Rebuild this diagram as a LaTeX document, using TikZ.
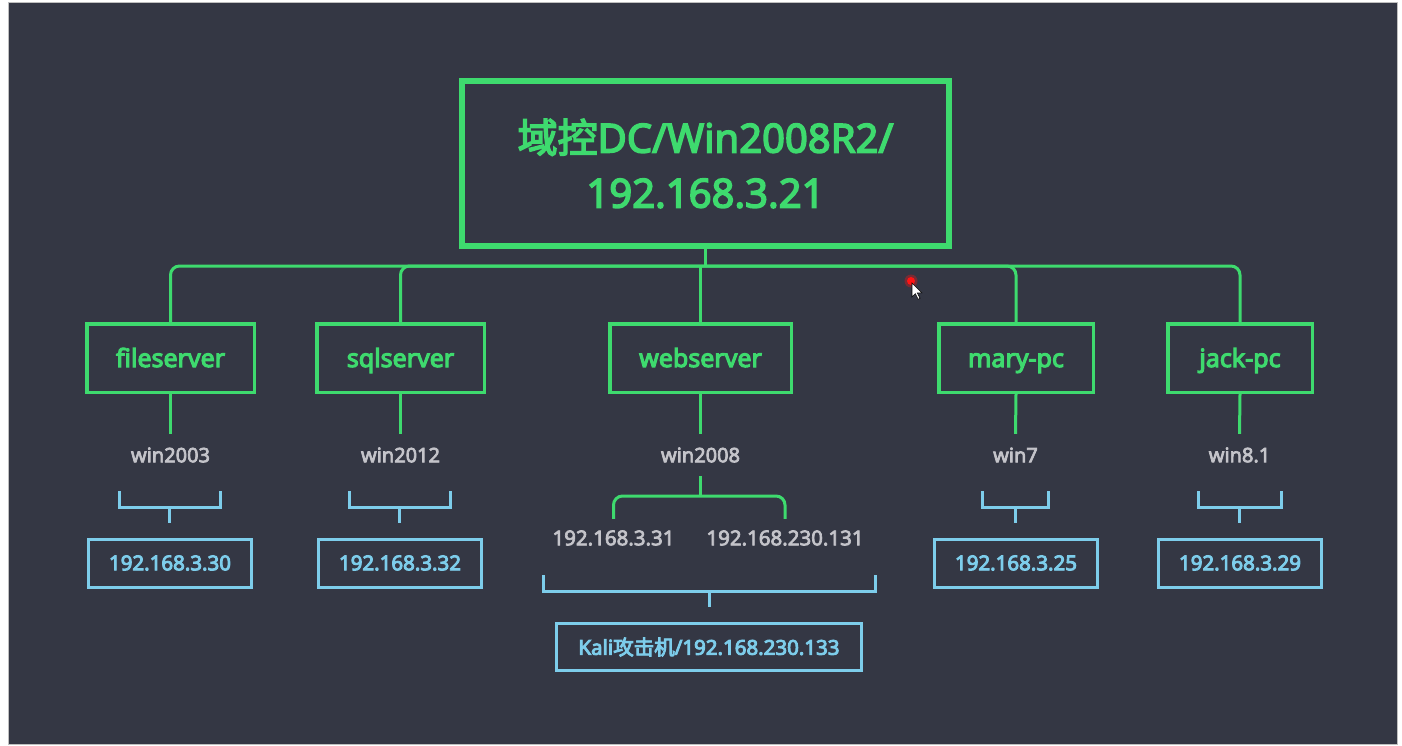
\documentclass[tikz,border=0pt]{standalone}
\usepackage{fontspec}
\setmainfont{Noto Sans}
\newfontfamily\cjk{Noto Sans CJK SC}
\newcommand\thk[1]{\special{pdf:literal direct 2 Tr #1 w}}
\usetikzlibrary{calc}
\definecolor{bgdark}{RGB}{52,55,68}
\definecolor{gr}{RGB}{62,218,110}
\definecolor{bl}{RGB}{125,205,235}
\definecolor{gy}{RGB}{196,196,202}
\definecolor{dotred}{RGB}{255,20,20}
\newcommand\ipbrk[3]{%
  \draw[bline] (#1-#2,491) |- (#1+#2,507) -- (#1+#2,491);
  \coordinate (#3) at (#1,507);}
\tikzset{
  dcbox/.style={draw=gr, line width=6pt, minimum width=487pt, minimum height=165pt, inner sep=0pt,
    text=gr, align=center, font=\fontsize{40}{55}\selectfont\thk{1.5}},
  hostbox/.style={draw=gr, line width=3.5pt, minimum height=68.5pt, inner sep=0pt,
    text height=20pt, text depth=2pt,
    text=gr, font=\fontsize{25}{30}\selectfont\thk{1.1}},
  oslabel/.style={text=gy, minimum height=42pt, inner sep=0pt, font=\fontsize{20}{24}\selectfont\thk{0.7}},
  iplabel/.style={text=gy, minimum height=38pt, inner sep=0pt, font=\fontsize{20.5}{24}\selectfont\thk{0.7}},
  ipbox/.style={draw=bl, line width=3pt, minimum width=163pt, minimum height=48pt, inner sep=0pt,
    text=bl, font=\fontsize{20.5}{24}\selectfont\thk{0.9}},
  gline/.style={draw=gr, line width=3pt},
  bline/.style={draw=bl, line width=3pt},
}
\begin{document}
\begin{tikzpicture}[x=1pt,y=-1pt]
\useasboundingbox (0,0) rectangle (1402,746);
\fill[white] (0,0) rectangle (1402,746);
\fill[gray!50] (8,2) rectangle (1398,745);
\fill[bgdark] (9,3) rectangle (1397,744);

% top node
\node[dcbox] (dc) at (705.5,163.5) {{\cjk 域控}DC/Win2008R2/\\192.168.3.21};

% hosts
\node[hostbox, minimum width=167.5pt] (file) at (170.5,358) {fileserver};
\node[hostbox, minimum width=167.5pt] (sql)  at (400.5,358) {sqlserver};
\node[hostbox, minimum width=181.5pt] (web)  at (700.5,358) {webserver};
\node[hostbox, minimum width=154.5pt] (mary) at (1016,358) {mary-pc};
\node[hostbox, minimum width=144.5pt] (jack) at (1240,358) {jack-pc};

% bus
\coordinate (bus) at (0,266);
\draw[gline] (dc.south) -- (dc.south |- bus);
\draw[gline, rounded corners=9pt] (file.north) |- (bus -| jack.north) -- (jack.north);
\draw[gline, rounded corners=9pt] (sql.north) |- (bus -| web.north);
\draw[gline, rounded corners=9pt] (mary.north) |- (bus -| web.north);
\draw[gline] (web.north) -- (web.north |- bus);

% OS labels
\node[oslabel] (os1) at (170.5,455) {win2003};
\node[oslabel] (os2) at (400.5,455) {win2012};
\node[oslabel] (os3) at (700.5,455) {win2008};
\node[oslabel] (os4) at (1015.5,455) {win7};
\node[oslabel] (os5) at (1239.5,455) {win8.1};
\draw[gline] (file.south) -- (os1.north);
\draw[gline] (sql.south) -- (os2.north);
\draw[gline] (web.south) -- (os3.north);
\draw[gline] (mary.south) -- (os4.north);
\draw[gline] (jack.south) -- (os5.north);

% IP boxes
\node[ipbox] (ip1) at (170,563) {192.168.3.30};
\node[ipbox] (ip2) at (400,563) {192.168.3.32};
\node[ipbox] (ip4) at (1016,563) {192.168.3.25};
\node[ipbox] (ip5) at (1240,563) {192.168.3.29};

% blue brackets
\ipbrk{169.5}{50.5}{b1}
\ipbrk{399.5}{50.5}{b2}
\ipbrk{1015}{33}{b4}
\ipbrk{1239.5}{41.5}{b5}
\draw[bline, shorten >=14.5pt] (b1) -- (b1 |- ip1.north);
\draw[bline, shorten >=14.5pt] (b2) -- (b2 |- ip2.north);
\draw[bline, shorten >=14.5pt] (b4) -- (b4 |- ip4.north);
\draw[bline, shorten >=14.5pt] (b5) -- (b5 |- ip5.north);

% webserver addresses
\node[iplabel] (ip31) at (613.5,538) {192.168.3.31};
\node[iplabel] (ip131) at (785,538) {192.168.230.131};
\coordinate (j3) at (700.5,496);
\draw[gline] (os3.south) -- (j3);
\draw[gline, rounded corners=9pt] (ip31.north) |- (j3) -| (ip131.north);

% Kali
\node[ipbox, minimum width=305pt, minimum height=47pt] (kali) at (709,647) {Kali{\cjk 攻击机}/192.168.230.133};
\draw[bline] (543,575) |- (875,591) -- (875,575);
\coordinate (kb) at (709,591);
\draw[bline, shorten >=15pt] (kb) -- (kali.north);

% mouse pointer
\fill[dotred, opacity=0.35] (911,281) circle (6.5);
\fill[dotred] (911,281) circle (4);
\filldraw[fill=white, draw=black, line width=0.6pt] (912,283) -- ++(0,14) -- ++(3.3,-3.3) -- ++(2.8,5.6) -- ++(2,-1) -- ++(-2.8,-5.4) -- ++(4.6,0) -- cycle;
\end{tikzpicture}
\end{document}
